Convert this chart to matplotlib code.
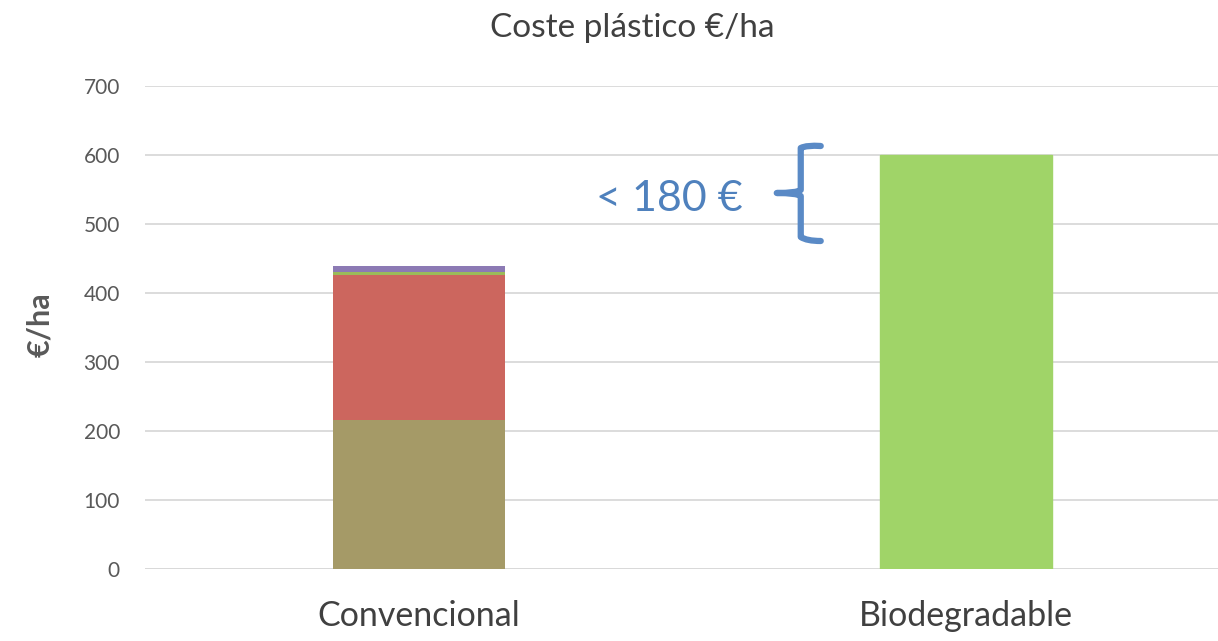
import matplotlib
matplotlib.use("Agg")
import matplotlib.pyplot as plt
from matplotlib.path import Path
from matplotlib.patches import PathPatch

categories = ["Convencional", "Biodegradable"]
seg_brown = [216, 0]
seg_red = [210, 0]
seg_green = [5, 600]
seg_purple = [8, 0]
yticks = [0, 100, 200, 300, 400, 500, 600, 700]

plt.rcParams['font.family'] = ['Lato', 'DejaVu Sans']

fig = plt.figure(figsize=(12.18, 6.41), dpi=100)
W, H = 1218, 641
ax = fig.add_axes([145 / W, 1 - 569 / H, (1240 - 145) / W, (569 - 86) / H])

x = list(range(len(categories)))
bw = 0.314
bottom = [0, 0]
cols = ["#A59A67", "#CC665E", "#9BBB59", "#8C7AB4"]
segs = [seg_brown, seg_red, seg_green, seg_purple]
for s, c in zip(segs, cols):
    ax.bar(x, s, bw, bottom=bottom, color=c, zorder=3)
    bottom = [b + v for b, v in zip(bottom, s)]
ax.patches[5].set_color("#A0D468")

ax.set_xlim(-0.5, 1.5)
ax.set_ylim(0, 700)
ax.set_yticks(yticks)
ax.set_yticklabels([str(v) for v in yticks], fontsize=15, color="#595959")
ax.set_xticks(x)
ax.set_xticklabels(categories, fontsize=24.5, color="#404040")
ax.tick_params(axis='y', length=0, pad=18)
ax.tick_params(axis='x', length=0, pad=22)
ax.grid(axis='y', color="#D9D9D9", linewidth=1.3, zorder=0)
for sp in ax.spines.values():
    sp.set_visible(False)
ax.axhline(0, color="#D9D9D9", linewidth=1.3, zorder=2)

fig.text(632 / W, 1 - 28 / H, "Coste plástico €/ha", ha='center', va='center',
         fontsize=24, color="#404040")
fig.text(40 / W, 1 - 325 / H, "€/ha", rotation=90, ha='center', va='center',
         fontsize=22, fontweight='bold', color="#595959")

def px2d(px, py):
    return ((px - 418) / 547.5, (569 - py) / 0.69)

tx, ty = px2d(669, 199)
ax.text(tx, ty, "< 180 €", ha='center', va='center', fontsize=31, color="#4F81BD", zorder=5)

pts = [(820, 146), (806, 145), (800, 148), (800, 160),
       (800, 190), (796, 193), (776, 193),
       (796, 193), (800, 196), (800, 225),
       (800, 237), (806, 241), (820, 241)]
codes = [Path.MOVETO, Path.CURVE3, Path.CURVE3, Path.LINETO,
         Path.LINETO, Path.CURVE3, Path.CURVE3,
         Path.CURVE3, Path.CURVE3, Path.LINETO,
         Path.LINETO, Path.CURVE3, Path.CURVE3]
brace = Path([px2d(*p) for p in pts], codes)
ax.add_patch(PathPatch(brace, facecolor='none', edgecolor="#5A8AC6", linewidth=4.5,
                       capstyle='round', joinstyle='round', zorder=5, clip_on=False))

fig.savefig("out.png", dpi=100)
